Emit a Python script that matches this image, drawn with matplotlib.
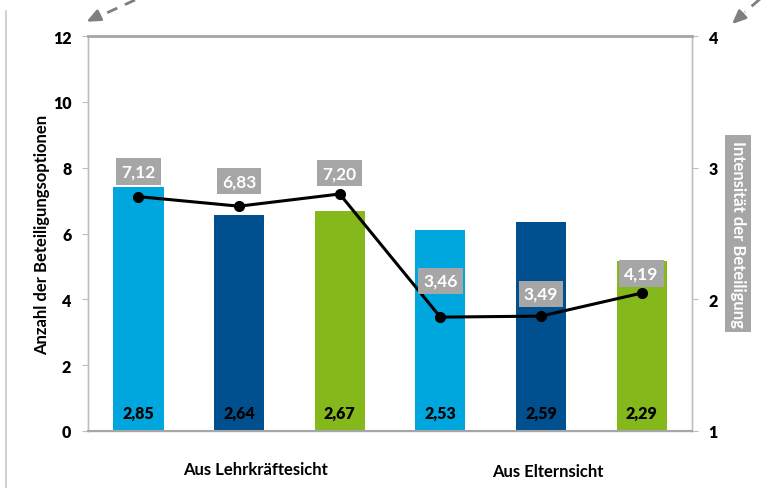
import matplotlib.pyplot as plt
from matplotlib.lines import Line2D

plt.rcParams['font.family'] = ['Lato', 'DejaVu Sans']
plt.rcParams['font.weight'] = 'bold'

# data
groups = ['Aus Lehrkräftesicht', 'Aus Elternsicht']
intensity = [2.85, 2.64, 2.67, 2.53, 2.59, 2.29]      # bars, right axis
options = [7.12, 6.83, 7.20, 3.46, 3.49, 4.19]        # line, left axis
bar_colors = ['#00A6DE', '#00508F', '#85B81B', '#00A6DE', '#00508F', '#85B81B']
label_offsets = [18, 18, 15, 26, 16, 14]              # points above marker

fig = plt.figure(figsize=(7.67, 4.89), dpi=100)
ax = fig.add_axes([88 / 767, 57 / 489, 604 / 767, 395 / 489])
ax2 = ax.twinx()

x = list(range(len(intensity)))

# bars on the right axis (bottom at 1)
ax2.bar(x, [v - 1 for v in intensity], bottom=1, width=0.5, color=bar_colors, zorder=1)
for xi, v in zip(x, intensity):
    ax2.text(xi, 1.14, f'{v:.2f}'.replace('.', ','), ha='center', va='center',
             fontsize=11.5, fontweight='heavy', color='black')

# line on the left axis, drawn above the bars
ax.set_zorder(ax2.get_zorder() + 1)
ax.patch.set_visible(False)
ax.plot(x, options, color='black', lw=2.2, marker='o', ms=7, zorder=3)
for xi, v, off in zip(x, options, label_offsets):
    ax.annotate(f'{v:.2f}'.replace('.', ','), (xi, v), xytext=(0, off),
                textcoords='offset points', ha='center', va='center',
                fontsize=12.5, fontweight='bold', color='white',
                bbox=dict(boxstyle='square,pad=0.3', fc='#A6A6A6', ec='none'))

ax.set_xlim(-0.5, 5.5)
ax.set_ylim(0, 12)
ax.set_yticks(range(0, 13, 2))
ax2.set_ylim(1, 4)
ax2.set_yticks([1, 2, 3, 4])
ax.set_xticks([])

for a in (ax, ax2):
    for s in a.spines.values():
        s.set_color('#BFBFBF')
        s.set_linewidth(1)
    a.tick_params(axis='y', length=4, color='#BFBFBF', labelsize=11.5, pad=8)
ax.spines['top'].set_color('#A6A6A6')
ax.spines['top'].set_linewidth(2)
ax.spines['bottom'].set_color('#A6A6A6')
ax.spines['bottom'].set_linewidth(1.5)
for lbl in ax.get_yticklabels() + ax2.get_yticklabels():
    lbl.set_fontweight('heavy')

ax.set_ylabel('Anzahl der Beteiligungsoptionen', fontsize=12, fontweight='bold', labelpad=2)
ax2.set_ylabel('Intensität der Beteiligung', fontsize=12, fontweight='bold', color='white',
               rotation=-90, labelpad=20,
               bbox=dict(boxstyle='square,pad=0.3', fc='#A6A6A6', ec='none'))

# group labels below the axis
fig.text(255 / 767, 1 - 470 / 489, groups[0], ha='center', va='center', fontsize=12, fontweight='bold')
fig.text(548 / 767, 1 - 472 / 489, groups[1], ha='center', va='center', fontsize=12, fontweight='bold')

# decorations: thin left line and dashed arrows
fig.add_artist(Line2D([6 / 767, 6 / 767], [0, 1 - 12 / 489], color='#C8C8C8', lw=1.2))
fig.add_artist(Line2D([135 / 767, 100 / 767], [1 - 1 / 489, 1 - 17 / 489],
                      color='#7F7F7F', lw=2, ls=(0, (4, 3))))
ax.annotate('', xy=(84, 489 - 24), xytext=(100, 489 - 16), xycoords='figure pixels',
            textcoords='figure pixels',
            arrowprops=dict(arrowstyle='-|>,head_width=0.35,head_length=0.8', color='#7F7F7F', lw=2))
fig.add_artist(Line2D([760 / 767, 745 / 767], [1.0, 1 - 13 / 489],
                      color='#7F7F7F', lw=2, ls=(0, (4, 3))))
ax.annotate('', xy=(730, 489 - 27), xytext=(745, 489 - 13), xycoords='figure pixels',
            textcoords='figure pixels',
            arrowprops=dict(arrowstyle='-|>,head_width=0.35,head_length=0.8', color='#7F7F7F', lw=2))

fig.savefig('out.png', dpi=100)
